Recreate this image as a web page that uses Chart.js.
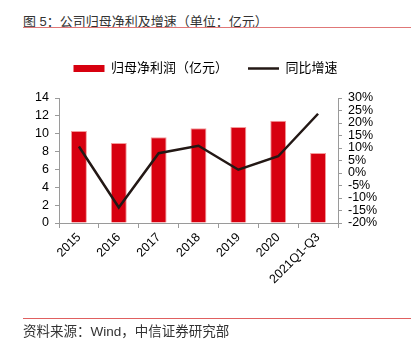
<!DOCTYPE html>
<html>
<head>
<meta charset="utf-8">
<script src="https://cdn.jsdelivr.net/npm/chart.js@4/dist/chart.umd.min.js"></script>
<style>
  html, body { margin: 0; padding: 0; background: #fff; }
  #wrap { position: relative; width: 411px; height: 344px; overflow: hidden; }
  #chart { position: absolute; left: 0; top: 0; }
  .cap { position: absolute; left: 23px; color: #333; white-space: nowrap;
    font-family: "Liberation Sans", "Noto Sans CJK SC", sans-serif; }
  #title { top: 11px; font-size: 13px; }
  #title-line { position: absolute; left: 23px; right: 0; top: 27px; height: 1px; background: #e07777; }
  #foot-line { position: absolute; left: 23px; right: 0; top: 318px; height: 1px; background: #e06060; }
  #foot { top: 320px; font-size: 13.5px; }
</style>
</head>
<body>
<div id="wrap">
  <div id="title" class="cap">图 5：公司归母净利及增速（单位：亿元）</div>
  <div id="title-line"></div>
  <canvas id="chart" width="411" height="344"></canvas>
  <div id="foot-line"></div>
  <div id="foot" class="cap">资料来源：Wind，中信证券研究部</div>
</div>
<script>
'use strict';

const years = ['2015', '2016', '2017', '2018', '2019', '2020', '2021Q1-Q3'];
const netProfit = [10.3, 8.95, 9.6, 10.6, 10.75, 11.45, 7.85];
const growthRate = [10.6, -13.8, 7.9, 10.9, 1.3, 6.7, 23.7];

const leftTicks = [0, 2, 4, 6, 8, 10, 12, 14];
const rightTicks = [-20, -15, -10, -5, 0, 5, 10, 15, 20, 25, 30];

const fontFamily = '"Liberation Sans", "Noto Sans CJK SC", sans-serif';
const barRed = '#d7000f';
const lineDark = '#231815';
const axisGrey = '#9a9a9a';

// make room between legend and plot
const legendHeight = {
  id: 'legendHeight',
  beforeInit(chart) {
    const fit = chart.legend.fit;
    chart.legend.fit = function () {
      fit.bind(chart.legend)();
      this.height = 56;
    };
  }
};

const ctx = document.querySelector('#chart').getContext('2d');
const myChart = new Chart(ctx, {
  data: {
    labels: years,
    datasets: [{
      type: 'line',
      label: '同比增速',
      data: growthRate,
      yAxisID: 'yRight',
      borderColor: lineDark,
      backgroundColor: lineDark,
      borderWidth: 2.5,
      pointRadius: 0,
      tension: 0,
      order: 0
    }, {
      type: 'bar',
      label: '归母净利润（亿元）',
      data: netProfit,
      yAxisID: 'yLeft',
      backgroundColor: barRed,
      borderColor: '#f49a9a',
      borderWidth: 1,
      barPercentage: 0.4,
      categoryPercentage: 1,
      order: 1
    }]
  },
  options: {
    responsive: false,
    animation: false,
    devicePixelRatio: 1,
    layout: {
      padding: { top: 42, bottom: 41, left: 0, right: 0 }
    },
    scales: {
      x: {
        offset: true,
        grid: { drawOnChartArea: false, offset: true, tickLength: 5, color: axisGrey },
        border: { color: axisGrey },
        ticks: {
          color: '#000',
          font: { family: fontFamily, size: 12.5 },
          minRotation: 45,
          maxRotation: 45,
          autoSkip: false,
          padding: 2
        },
        afterFit(scale) { scale.height = 80; }
      },
      yLeft: {
        position: 'left',
        min: 0,
        max: 14,
        afterBuildTicks(scale) { scale.ticks = leftTicks.map(v => ({ value: v })); },
        grid: { drawOnChartArea: false, tickLength: 4, color: axisGrey },
        border: { color: axisGrey },
        ticks: {
          color: '#000',
          font: { family: fontFamily, size: 12.5 },
          autoSkip: false,
          padding: 6
        },
        afterFit(scale) { scale.width = 59; }
      },
      yRight: {
        position: 'right',
        min: -20,
        max: 30,
        afterBuildTicks(scale) { scale.ticks = rightTicks.map(v => ({ value: v })); },
        grid: { drawOnChartArea: false, tickLength: 4, color: axisGrey },
        border: { color: axisGrey },
        ticks: {
          color: '#000',
          font: { family: fontFamily, size: 12.5 },
          autoSkip: false,
          padding: 6,
          callback: v => v + '%'
        },
        afterFit(scale) { scale.width = 73; }
      }
    },
    plugins: {
      legend: {
        position: 'top',
        reverse: true,
        labels: {
          color: '#000',
          font: { family: fontFamily, size: 13 },
          usePointStyle: true,
          pointStyleWidth: 31,
          boxHeight: 7,
          padding: 20,
          generateLabels(chart) {
            return chart.data.datasets.map((ds, i) => ({
              text: ds.label,
              datasetIndex: i,
              fillStyle: ds.type === 'bar' ? barRed : lineDark,
              strokeStyle: ds.type === 'bar' ? barRed : lineDark,
              lineWidth: ds.type === 'bar' ? 0 : 2.5,
              pointStyle: ds.type === 'bar' ? 'rect' : 'line',
              fontColor: '#000'
            }));
          }
        }
      },
      tooltip: { enabled: false }
    }
  },
  plugins: [legendHeight]
});
</script>
</body>
</html>
